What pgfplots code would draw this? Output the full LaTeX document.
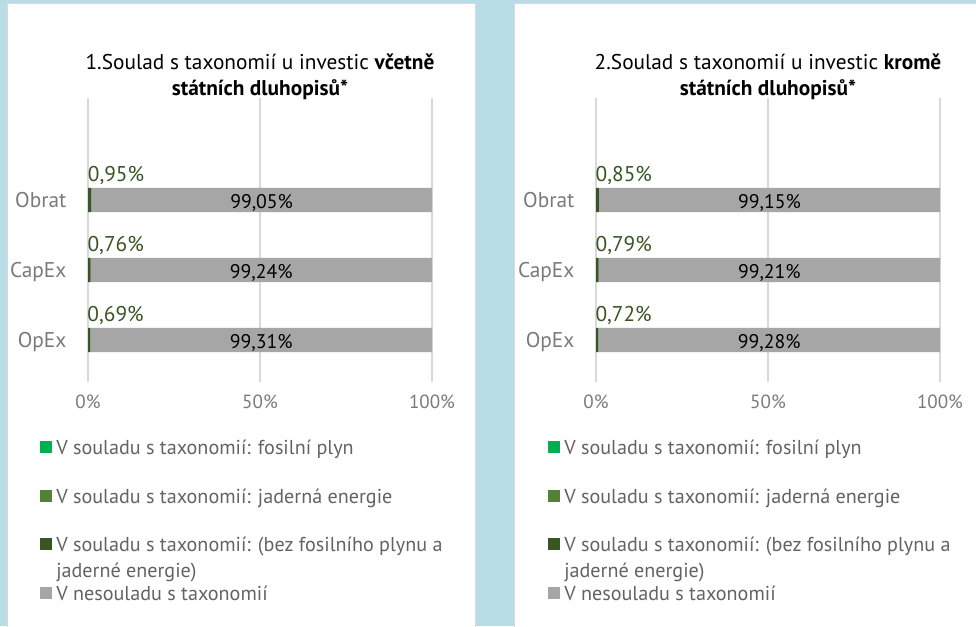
\documentclass[border=0pt]{standalone}
\usepackage{pgfplots}
\pgfplotsset{compat=1.18}
\usepackage{pgfplotstable}
\usepackage{fontspec}
\setmainfont{PT Sans}
\definecolor{bgc}{HTML}{B8DDE6}
\definecolor{panelb}{HTML}{D9D9D9}
\definecolor{gridc}{HTML}{D9D9D9}
\definecolor{cgas}{HTML}{00B050}
\definecolor{cnuc}{HTML}{548235}
\definecolor{cbez}{HTML}{375623}
\definecolor{cnon}{HTML}{A6A6A6}
\definecolor{txtg}{HTML}{7A7A7A}
\definecolor{legt}{HTML}{636363}

\pgfplotstableread{
y gas nuc bez non
0 0 0 0.69 99.31
1 0 0 0.76 99.24
2 0 0 0.95 99.05
}\tabA
\pgfplotstableread{
y gas nuc bez non
0 0 0 0.72 99.28
1 0 0 0.79 99.21
2 0 0 0.85 99.15
}\tabB

\pgfplotsset{
  panel/.style={
    xbar stacked, bar width=18.3pt,
    scale only axis, width=258pt, height=213pt,
    anchor=south west,
    xmin=0, xmax=100, ymin=-0.6, ymax=3.457,
    clip=false,
    ytick={0,1,2}, yticklabels={OpEx,CapEx,Obrat},
    xtick={0,50,100}, xticklabels={0\%,50\%,100\%},
    xmajorgrids, major grid style={draw=gridc, line width=0.9pt},
    axis line style={draw=none}, major tick length=0pt, tick style={draw=none},
    yticklabel style={anchor=base east, inner sep=0pt, xshift=-16pt, yshift=-5.6pt, font=\fontsize{16pt}{19pt}\selectfont, text=txtg},
    xticklabel style={anchor=center, inner sep=0pt, yshift=-14.8pt, font=\fontsize{14.3pt}{17pt}\selectfont, text=txtg},
    title style={at={(0.5,1)}, anchor=south, inner sep=0pt, yshift=-7.75pt, align=center, font=\fontsize{16pt}{19.5pt}\selectfont},
    legend style={at={(-0.1395,-0.1926)}, anchor=north west, draw=none, fill=none, inner sep=0pt, row sep=0pt, column sep=3pt, cells={anchor=base west}, nodes={inner sep=0pt, text depth=, text height=}, font=\fontsize{15.1pt}{18pt}\selectfont, text=legt},
    legend image code/.code={\fill[##1] (0pt,1pt) rectangle (9pt,10pt);},
    every axis plot/.append style={draw=none},
  },
  lblbez/.style={point meta=explicit,
    nodes near coords={\pgfmathprintnumber[fixed, fixed zerofill, precision=2, use comma, assume math mode=true]{\pgfplotspointmeta}\%},
    every node near coord/.append style={anchor=base west, inner sep=0pt, xshift=-1.5pt, yshift=14.1pt, text=cbez, font=\fontsize{16pt}{19pt}\selectfont}},
  lblnon/.style={point meta=explicit,
    nodes near coords={\pgfmathprintnumber[fixed, fixed zerofill, precision=2, use comma, assume math mode=true]{\pgfplotspointmeta}\%},
    every node near coord/.append style={anchor=base, inner sep=0pt, yshift=-6.2pt, text=black, font=\fontsize{14.8pt}{18pt}\selectfont}},
}

\begin{document}
\begin{tikzpicture}
\fill[bgc] (0pt,0pt) rectangle (732pt,469.5pt);
\filldraw[fill=white, draw=panelb, line width=0.75pt] (5.25pt,-10pt) rectangle (356.25pt,466.5pt);
\filldraw[fill=white, draw=panelb, line width=0.75pt] (385.5pt,-10pt) rectangle (745pt,466.5pt);

\begin{axis}[panel, at={(66pt,183pt)},
  title={1.Soulad s taxonomií u investic \textbf{včetně}\\\textbf{státních dluhopisů*}}]
\addplot[fill=cgas] table[x=gas,y=y] {\tabA};
\addlegendentry{\rule[-23.75pt]{0pt}{36.75pt}V souladu s taxonomií: fosilní plyn}
\addplot[fill=cnuc] table[x=nuc,y=y] {\tabA};
\addlegendentry{\rule[-23pt]{0pt}{36pt}V souladu s taxonomií: jaderná energie}
\addplot[fill=cbez, lblbez] table[x=bez,y=y,meta=bez] {\tabA};
\addlegendentry{\rule[-6.5pt]{0pt}{19.5pt}V souladu s taxonomií: (bez fosilního plynu a}
\addlegendimage{empty legend}
\addlegendentry{\rule[-4.25pt]{0pt}{17.25pt}jaderné energie)}
\addplot[fill=cnon, lblnon] table[x=non,y=y,meta=non] {\tabA};
\addlegendentry{\rule[-4pt]{0pt}{17pt}V nesouladu s taxonomií}
\end{axis}

\begin{axis}[panel, at={(447pt,183pt)},
  title={2.Soulad s taxonomií u investic \textbf{kromě}\\\textbf{státních dluhopisů*}}]
\addplot[fill=cgas] table[x=gas,y=y] {\tabB};
\addlegendentry{\rule[-23.75pt]{0pt}{36.75pt}V souladu s taxonomií: fosilní plyn}
\addplot[fill=cnuc] table[x=nuc,y=y] {\tabB};
\addlegendentry{\rule[-23pt]{0pt}{36pt}V souladu s taxonomií: jaderná energie}
\addplot[fill=cbez, lblbez] table[x=bez,y=y,meta=bez] {\tabB};
\addlegendentry{\rule[-6.5pt]{0pt}{19.5pt}V souladu s taxonomií: (bez fosilního plynu a}
\addlegendimage{empty legend}
\addlegendentry{\rule[-4.25pt]{0pt}{17.25pt}jaderné energie)}
\addplot[fill=cnon, lblnon] table[x=non,y=y,meta=non] {\tabB};
\addlegendentry{\rule[-4pt]{0pt}{17pt}V nesouladu s taxonomií}
\end{axis}

\pgfresetboundingbox
\useasboundingbox (0pt,0pt) rectangle (732pt,469.5pt);
\end{tikzpicture}
\end{document}
